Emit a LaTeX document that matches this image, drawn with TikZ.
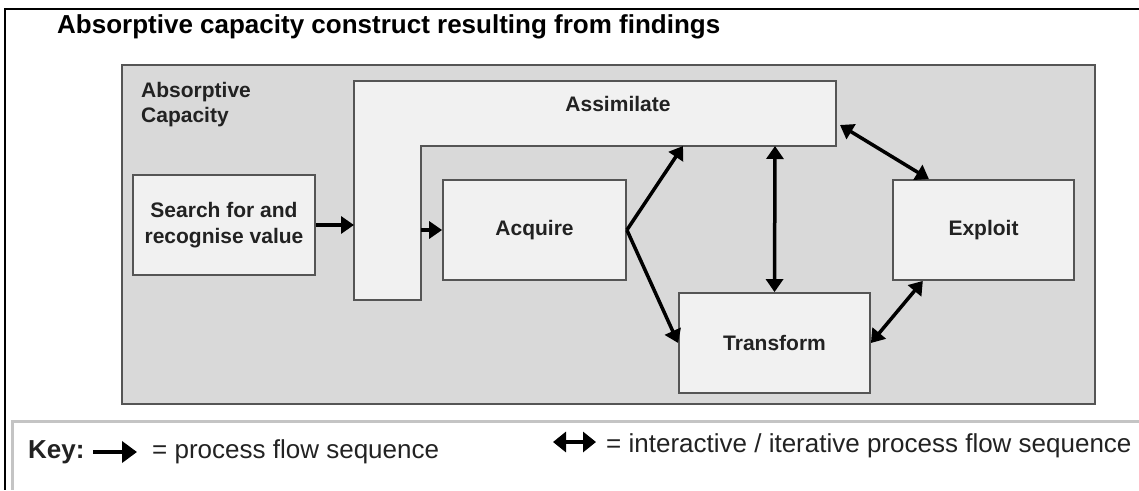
\documentclass[tikz,border=0pt]{standalone}
\usepackage{fontspec}
\setmainfont{Liberation Sans}
\usetikzlibrary{arrows.meta}

\definecolor{panelgrey}{HTML}{D9D9D9}
\definecolor{boxgrey}{HTML}{F1F1F1}
\definecolor{edgegrey}{HTML}{555555}
\definecolor{keyline}{HTML}{C4C4C4}
\definecolor{inkgrey}{HTML}{222222}

\newcommand{\fsz}[1]{\fontsize{#1}{1.25\dimexpr#1pt\relax}\selectfont}

\tikzset{
  stagebox/.style={draw=edgegrey, fill=boxgrey, line width=1.8pt, inner sep=0pt,
    align=center, text=inkgrey, font=\fsz{21}\bfseries},
  flow/.style={line width=3.5pt, -{Triangle[length=13pt,width=17pt]}},
  biflow/.style={line width=3.5pt, {Triangle[length=13pt,width=17pt]}-{Triangle[length=13pt,width=17pt]}},
  keytext/.style={inner sep=0pt, anchor=base west, text=inkgrey, font=\fsz{26}},
}

\begin{document}
\begin{tikzpicture}[x=1pt,y=-1pt]
\useasboundingbox (0,0) rectangle (1139,490);

% outer frame (top and left rules)
\draw[line width=2.6pt] (1139,9) -- (5,9) -- (5,490);

% title
\node[inner sep=0pt, anchor=base west, font=\fsz{26}\bfseries] (title) at (57,33)
  {Absorptive capacity construct resulting from findings};

% grey panel holding the construct
\draw[draw=edgegrey, fill=panelgrey, line width=1.8pt] (122,65) rectangle (1095,404);
\node[inner sep=0pt, anchor=base west, text=inkgrey, font=\fsz{21}\bfseries] (panel1) at (141,97) {Absorptive};
\node[inner sep=0pt, anchor=base west, text=inkgrey, font=\fsz{21}\bfseries] (panel2) at (141,122) {Capacity};

% L-shaped "Assimilate" stage
\draw[draw=edgegrey, fill=boxgrey, line width=1.8pt]
  (354,81) -- (836,81) -- (836,146) -- (421,146) -- (421,300) -- (354,300) -- cycle;
\node[inner sep=0pt, text=inkgrey, font=\fsz{21}\bfseries] (assim) at (618,104) {Assimilate};
\coordinate (assimLeft)   at (354,225);
\coordinate (assimInner)  at (421,230);
\coordinate (assimBottom) at (683,146);
\coordinate (assimStem)   at (775,146);
\coordinate (assimRight)  at (840,125);

% remaining stages
\node[stagebox, minimum width=182pt, minimum height=100pt] (search) at (224,225)
  {\fontsize{21}{27}\selectfont Search for and\\recognise value};
\node[stagebox, minimum width=183pt, minimum height=100pt] (acquire) at (534.5,230) {Acquire};
\node[stagebox, minimum width=191pt, minimum height=100pt] (transform) at (774.5,343) {Transform};
\node[stagebox, minimum width=181pt, minimum height=100pt] (exploit) at (983.5,230) {Exploit};

% process flow
\draw[flow] (search.east) -- (assimLeft);
\draw[flow] (assimInner) -- (acquire.west);
\draw[flow] (acquire.east) -- (assimBottom);
\draw[flow] (acquire.east) -- (transform.west);

% interactive / iterative flow
\draw[biflow] (assimStem) -- (transform.north);
\draw[biflow] (assimRight) -- (exploit.137);
\draw[biflow] (transform.east) -- (exploit.220);

% key
\draw[keyline, line width=3pt] (1139,421) -- (12,421) -- (12,490);
\node[keytext, font=\fsz{26}\bfseries] (keylabel) at (28,458) {Key:};
\coordinate (keyA1) at (93,452);
\coordinate (keyA2) at (137,452);
\draw[line width=4pt, -{Triangle[length=15pt,width=21pt]}] (keyA1) -- (keyA2);
\node[keytext] (keyflow) at (152,458) {= process flow sequence};
\coordinate (keyB1) at (553,442);
\coordinate (keyB2) at (596,442);
\draw[line width=4pt, {Triangle[length=13pt,width=20pt]}-{Triangle[length=13pt,width=20pt]}] (keyB1) -- (keyB2);
\node[keytext] (keyiter) at (606,452) {= interactive / iterative process flow sequence};
\end{tikzpicture}
\end{document}
